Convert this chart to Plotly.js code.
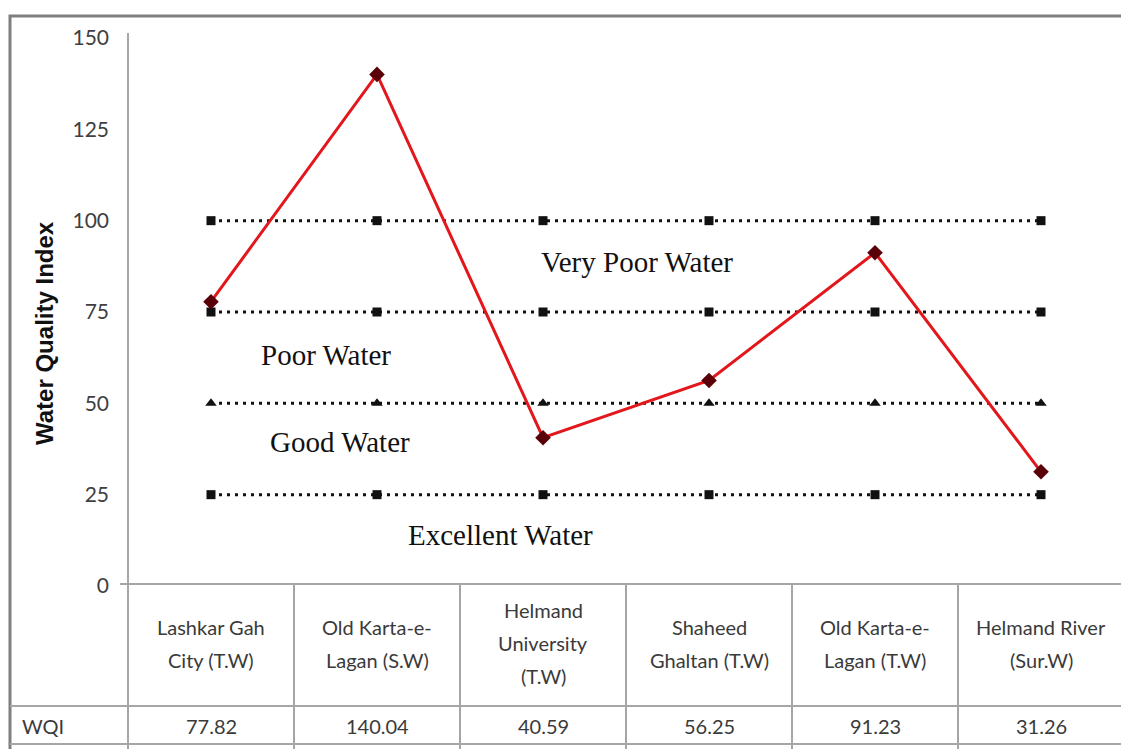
<!DOCTYPE html>
<html>
<head>
<meta charset="utf-8">
<script src="https://cdn.plot.ly/plotly-3.0.1.min.js"></script>
<style>
html,body{margin:0;padding:0;overflow:hidden;background:#fff;}
#chart{width:1140px;height:749px;}
</style>
</head>
<body>
<div id="chart"></div>
<script>
// ---- data ----
const sites = [
  "Lashkar Gah\nCity (T.W)",
  "Old Karta-e-\nLagan (S.W)",
  "Helmand\nUniversity\n(T.W)",
  "Shaheed\nGhaltan (T.W)",
  "Old Karta-e-\nLagan (T.W)",
  "Helmand River\n(Sur.W)"
];
const wqi = [77.82, 140.04, 40.59, 56.25, 91.23, 31.26];
const limitVeryPoor = [100, 100, 100, 100, 100, 100];
const limitPoor = [75, 75, 75, 75, 75, 75];
const limitGood = [50, 50, 50, 50, 50, 50];
const limitExcellent = [25, 25, 25, 25, 25, 25];
const yTicks = [0, 25, 50, 75, 100, 125, 150];
const classLabels = ["Very Poor Water", "Poor Water", "Good Water", "Excellent Water"];
const rowLabel = "WQI";
const yTitle = "Water Quality Index";

// ---- helpers (pixel -> paper) ----
const L = 128, PW = 996, B = 586, PH = 548;
const px = x => (x - L) / PW;
const py = y => (B - y) / PH;

const xs = sites.map((s, i) => i);
const gray = "#a6a6a6";

function limitTrace(vals, sym, size) {
  return {
    x: xs, y: vals, type: "scatter", mode: "lines+markers",
    line: {color: "#111", width: 3, dash: "3px,5px"},
    marker: {symbol: sym, size: size, color: "#111"},
    hoverinfo: "skip", showlegend: false
  };
}

const traces = [
  limitTrace(limitVeryPoor, "square", 9),
  limitTrace(limitPoor, "square", 9),
  limitTrace(limitGood, "triangle-up", 10),
  limitTrace(limitExcellent, "square", 9),
  {
    x: xs, y: wqi, type: "scatter", mode: "lines+markers",
    line: {color: "#e3161b", width: 3},
    marker: {symbol: "diamond", size: 12, color: "#5a0008"},
    showlegend: false
  }
];

const shapes = [];
// outer frame
shapes.push({type: "rect", xref: "paper", yref: "paper",
  x0: px(10), x1: px(1140), y0: py(800), y1: py(16),
  line: {color: "#7f7f7f", width: 3}});
// y axis line / first column divider
shapes.push({type: "line", xref: "paper", yref: "paper",
  x0: px(128), x1: px(128), y0: py(800), y1: py(33),
  line: {color: gray, width: 2}});
// table top (x axis)
shapes.push({type: "line", xref: "paper", yref: "paper",
  x0: px(120), x1: px(1140), y0: py(584), y1: py(584),
  line: {color: gray, width: 2}});
// WQI row lines
[706, 744].forEach(yy => shapes.push({type: "line", xref: "paper", yref: "paper",
  x0: px(10), x1: px(1140), y0: py(yy), y1: py(yy),
  line: {color: gray, width: 2}}));
// column dividers
for (let i = 1; i < sites.length + 1; i++) {
  shapes.push({type: "line", xref: "x", yref: "paper",
    x0: i - 0.5, x1: i - 0.5, y0: py(800), y1: py(584),
    line: {color: gray, width: 2}});
}

const annotations = [];
const tblFont = {family: "Lato, 'Open Sans', sans-serif", size: 20, color: "#3a3a3a"};
// header cells
sites.forEach((s, i) => {
  const lines = s.split("\n");
  const c = 643, step = 33;
  lines.forEach((ln, k) => {
    const yy = c + (k - (lines.length - 1) / 2) * step;
    annotations.push({xref: "x", yref: "paper", x: i, y: py(yy), text: ln,
      showarrow: false, font: tblFont, xanchor: "center", yanchor: "middle"});
  });
});
// value cells
wqi.forEach((v, i) => annotations.push({xref: "x", yref: "paper", x: i, y: py(726),
  text: v.toFixed(2), showarrow: false, font: tblFont, xanchor: "center", yanchor: "middle"}));
annotations.push({xref: "paper", yref: "paper", x: px(20), y: py(726), text: rowLabel,
  showarrow: false, font: tblFont, xanchor: "left", yanchor: "middle"});
// y title
annotations.push({xref: "paper", yref: "paper", x: px(45), y: py(333), text: "<b>" + yTitle + "</b>",
  textangle: -90, showarrow: false, font: {family: "Liberation Sans, Arial, sans-serif", size: 24, color: "#111"},
  xanchor: "center", yanchor: "middle"});
// class labels
const serif = {family: "Liberation Serif, 'Times New Roman', serif", size: 29, color: "#111"};
const classPos = [[2.566, 88.7], [0.693, 63.2], [0.777, 39.4], [1.741, 14.0]];
classLabels.forEach((t, i) => annotations.push({xref: "x", yref: "y",
  x: classPos[i][0], y: classPos[i][1], text: t, showarrow: false, font: serif,
  xanchor: "center", yanchor: "middle"}));

const layout = {
  width: 1140, height: 749,
  margin: {l: L, r: 1140 - L - PW, t: B - PH, b: 749 - B},
  paper_bgcolor: "#fff", plot_bgcolor: "#fff",
  showlegend: false,
  xaxis: {type: "linear", range: [-0.5, 5.5], showgrid: false, zeroline: false,
    showticklabels: false, ticks: "", showline: false, fixedrange: true},
  yaxis: {range: [0, 150], tickvals: yTicks, ticktext: yTicks.map(String),
    showgrid: false, zeroline: false, showline: false, ticks: "",
    ticklabelstandoff: 18,
    tickfont: {family: "Lato, 'Open Sans', sans-serif", size: 21, color: "#404040"},
    fixedrange: true},
  shapes: shapes,
  annotations: annotations
};

Plotly.newPlot("chart", traces, layout, {displayModeBar: false, staticPlot: true});
</script>
</body>
</html>
